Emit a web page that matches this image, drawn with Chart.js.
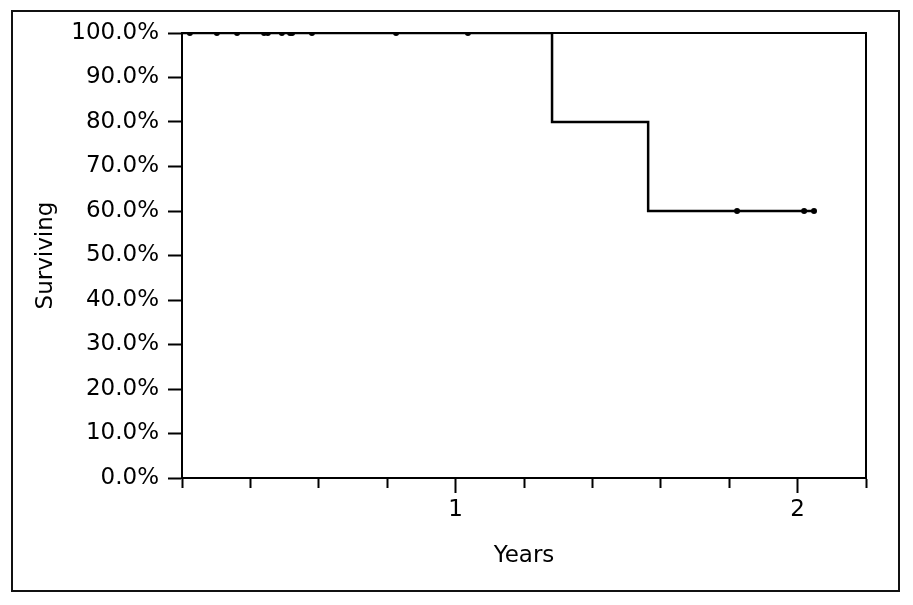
<!DOCTYPE html>
<html>
<head>
<meta charset="utf-8">
<script src="https://cdn.jsdelivr.net/npm/chart.js@4"></script>
<style>
  body { margin: 0; background: #fff; }
  #wrap { position: relative; width: 913px; height: 605px; }
  #frame { position: absolute; left: 11px; top: 10px; width: 885px; height: 578px; border: 2px solid #111; pointer-events: none; }
</style>
</head>
<body>
<div id="wrap">
  <canvas id="myChart" width="913" height="605"></canvas>
  <div id="frame"></div>
</div>
<script>
// Kaplan-Meier steps (years, % surviving)
const stepYears = [0, 1.282, 1.563, 2.048];
const stepSurv = [100, 80, 60, 60];

// censored observations
const censorYears = [0.223, 0.302, 0.361, 0.440, 0.451, 0.492, 0.516, 0.522, 0.580, 0.826, 1.036, 1.823, 2.019, 2.048];
const censorSurv = [100, 100, 100, 100, 100, 100, 100, 100, 100, 100, 100, 60, 60, 60];

const xTicks = [0.2, 0.4, 0.6, 0.8, 1, 1.2, 1.4, 1.6, 1.8, 2, 2.2];
const xLabels = { 1: '1', 2: '2' };
const yTicks = [0, 10, 20, 30, 40, 50, 60, 70, 80, 90, 100];

const font = { family: 'DejaVu Sans', size: 23 };
const isMajor = v => Math.abs(v - Math.round(v)) < 1e-6;

function createChart() {
    const ctx = document.getElementById('myChart').getContext('2d');
    new Chart(ctx, {
        type: 'line',
        data: {
            datasets: [{
                label: 'Surviving',
                data: stepYears.map((x, i) => ({ x: x, y: stepSurv[i] })),
                stepped: true,
                borderColor: '#000',
                borderWidth: 2.5,
                pointRadius: 0,
                fill: false
            }, {
                label: 'Censored',
                data: censorYears.map((x, i) => ({ x: x, y: censorSurv[i] })),
                showLine: false,
                pointRadius: 3,
                pointBorderWidth: 0,
                pointBackgroundColor: '#000'
            }]
        },
        options: {
            responsive: false,
            animation: false,
            devicePixelRatio: 1,
            layout: { padding: { left: 0, right: 47, top: 33, bottom: 0 } },
            plugins: { legend: { display: false }, tooltip: { enabled: false } },
            scales: {
                x: {
                    type: 'linear',
                    min: 0.2,
                    max: 2.2,
                    afterBuildTicks: scale => { scale.ticks = xTicks.map(v => ({ value: v })); },
                    afterFit: scale => { scale.height = 127; },
                    ticks: {
                        autoSkip: false,
                        maxRotation: 0,
                        padding: 3,
                        color: '#000',
                        font: font,
                        callback: v => xLabels[Math.round(v * 10) / 10] || ''
                    },
                    grid: {
                        drawOnChartArea: false,
                        tickLength: 15,
                        tickWidth: 2,
                        tickColor: '#000',
                        tickBorderDash: c => (c.tick && isMajor(c.tick.value)) ? [] : [9, 20]
                    },
                    border: { color: '#000', width: 2 },
                    title: { display: true, text: 'Years', color: '#000', font: font, padding: { top: 0, bottom: 35 } }
                },
                y: {
                    min: 0,
                    max: 100,
                    afterBuildTicks: scale => { scale.ticks = yTicks.map(v => ({ value: v })); },
                    afterFit: scale => { scale.width = 182; },
                    ticks: {
                        padding: 9,
                        color: '#000',
                        font: font,
                        callback: v => v.toFixed(1) + '%'
                    },
                    grid: { drawOnChartArea: false, tickLength: 14, tickWidth: 2, tickColor: '#000' },
                    border: { color: '#000', width: 2 },
                    title: { display: true, text: 'Surviving', color: '#000', font: font, padding: { top: 32, bottom: 0 } }
                },
                xTop: {
                    type: 'linear',
                    position: 'top',
                    min: 0.2,
                    max: 2.2,
                    afterFit: scale => { scale.height = 0; },
                    ticks: { display: false },
                    grid: { drawOnChartArea: false, drawTicks: false },
                    border: { color: '#000', width: 2 }
                },
                yRight: {
                    position: 'right',
                    min: 0,
                    max: 100,
                    afterFit: scale => { scale.width = 0; },
                    ticks: { display: false },
                    grid: { drawOnChartArea: false, drawTicks: false },
                    border: { color: '#000', width: 2 }
                }
            }
        }
    });
}

createChart();
</script>
</body>
</html>
